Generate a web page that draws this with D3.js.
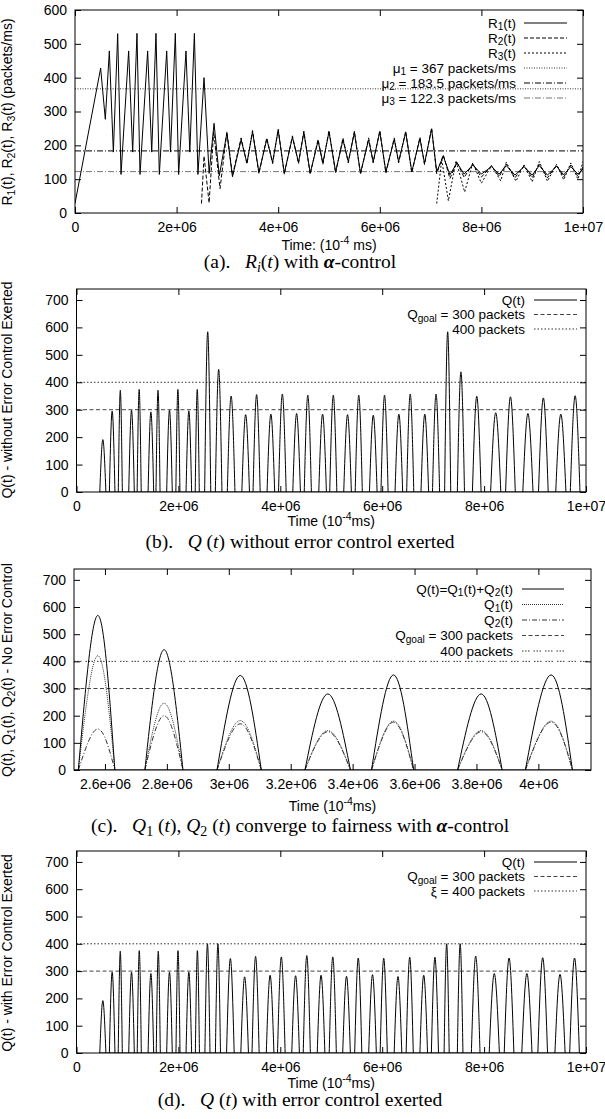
<!DOCTYPE html>
<html>
<head>
<meta charset="utf-8">
<script src="https://cdn.jsdelivr.net/npm/d3@7"></script>
<style>
body { margin: 0; background: #fff; }
svg text { font-family: "Liberation Sans", Arial, sans-serif; font-size: 14px; fill: #000; }
svg text.cap { font-family: "Liberation Serif", "Times New Roman", serif; font-size: 19.5px; }
</style>
</head>
<body>
<div id="chart"></div>
<script>
// time values are in units of 1e6 (x 10^-4 ms)
var xTicksFull = [0, 2, 4, 6, 8, 10];
var xLabelsFull = ["0", "2e+06", "4e+06", "6e+06", "8e+06", "1e+07"];
var xTicksZoom = [2.6, 2.8, 3.0, 3.2, 3.4, 3.6, 3.8, 4.0];
var xLabelsZoom = ["2.6e+06", "2.8e+06", "3e+06", "3.2e+06", "3.4e+06", "3.6e+06", "3.8e+06", "4e+06"];
var yTicksRate = [0, 100, 200, 300, 400, 500, 600];
var yTicksQueue = [0, 100, 200, 300, 400, 500, 600, 700];

// (a) rates R1, R2, R3 (packets/ms)
var r1 = [[0,28],[0.505,428],[0.597,277],[0.676,479],[0.755,180],[0.84,530],[0.906,114],
  [1.056,479],[1.135,180],[1.22,531],[1.28,114],[1.43,479],[1.51,180],[1.594,531],[1.66,114],
  [1.805,479],[1.88,180],[1.975,531],[2.04,114],[2.185,479],[2.26,180],[2.35,531],[2.42,114],
  [2.54,400],[2.64,117],[2.737,265],[2.84,110],[2.99,236],[3.1,107],[3.27,216],[3.385,148],
  [3.495,240],[3.62,120],[3.775,218],[3.89,150],[4.0,245],[4.12,118],[4.28,224],[4.4,150],
  [4.505,238],[4.63,118],[4.785,213],[4.88,148],[5.0,240],[5.13,122],[5.275,216],[5.38,152],
  [5.5,238],[5.62,118],[5.78,216],[5.87,152],[6.0,240],[6.12,122],[6.285,218],[6.37,152],
  [6.51,238],[6.63,122],[6.79,220],[6.88,147],[7.02,248],[7.12,122],[7.25,168],[7.38,113],
  [7.52,148],[7.66,115],[7.83,142],[8.0,115],[8.2,137],[8.35,115],[8.49,140],[8.66,112],
  [8.84,137],[9.0,112],[9.14,140],[9.3,112],[9.48,138],[9.62,113],[9.76,137],[9.9,115],[10.0,130]];
var r2 = [[2.49,28],[2.54,168],[2.64,30],[2.73,240],[2.855,72],[2.99,240],[3.1,112],[3.27,222],
  [3.385,145],[3.495,244],[3.62,116],[3.775,222],[3.89,146],[4.0,248],[4.12,114],[4.28,228],
  [4.4,146],[4.505,242],[4.63,114],[4.785,218],[4.88,144],[5.0,244],[5.13,118],[5.275,222],
  [5.38,148],[5.5,242],[5.62,114],[5.78,222],[5.87,148],[6.0,244],[6.12,118],[6.285,222],
  [6.37,148],[6.51,242],[6.63,118],[6.79,224],[6.88,143],[7.02,252],[7.12,116],[7.25,172],
  [7.38,102],[7.52,150],[7.66,105],[7.83,145],[8.0,106],[8.2,140],[8.35,108],[8.49,145],
  [8.66,104],[8.84,140],[9.0,104],[9.14,145],[9.3,104],[9.48,141],[9.62,106],[9.76,142],
  [9.9,108],[10.0,136]];
var r3 = [[7.12,28],[7.22,158],[7.35,36],[7.5,155],[7.67,62],[7.83,148],[8.0,88],[8.2,140],
  [8.38,95],[8.49,150],[8.68,94],[8.84,142],[9.0,92],[9.14,152],[9.3,94],[9.48,144],[9.62,98],
  [9.76,148],[9.9,100],[10.0,152]];
var muValues = [367, 183.5, 122.3];

// (b) Q(t) without error control: hump peak time, peak value, base width
var bTime = [0.517,0.70,0.86,1.08,1.23,1.46,1.60,1.825,1.99,2.205,2.37,2.575,2.79,3.035,3.32,
  3.535,3.815,4.04,4.32,4.54,4.83,5.04,5.32,5.54,5.825,6.046,6.327,6.55,6.836,7.057,7.285,
  7.545,7.856,8.228,8.517,8.86,9.163,9.506,9.787];
var bPeak = [191,295,371,298,374,292,371,298,374,296,374,584,447,350,282,355,284,357,286,353,
  284,353,282,353,280,353,284,357,284,357,584,438,349,289,347,286,343,284,351];
var bWidth = [0.12,0.11,0.08,0.11,0.08,0.11,0.08,0.11,0.08,0.11,0.08,0.12,0.13,0.15,0.15,0.14,
  0.15,0.15,0.15,0.14,0.15,0.14,0.15,0.14,0.15,0.14,0.15,0.14,0.15,0.14,0.12,0.14,0.17,0.2,
  0.19,0.2,0.19,0.2,0.19];

// (c) Q, Q1, Q2 humps
var cTime = [2.577, 2.791, 3.037, 3.32, 3.532, 3.815, 4.041];
var cStart = [2.514, 2.729, 2.962, 3.246, 3.461, 3.739, 3.958];
var cEnd = [2.632, 2.852, 3.105, 3.393, 3.597, 3.883, 4.11];
var cQ = [569, 443, 348, 280, 350, 280, 350];
var cQ1 = [421, 246, 182, 145, 180, 145, 180];
var cQ2 = [151, 200, 170, 141, 176, 141, 176];

// (d) Q(t) with error control
var dTime = [0.517,0.70,0.859,1.08,1.232,1.46,1.605,1.825,1.992,2.205,2.373,2.57,2.776,3.02,
  3.3,3.515,3.8,4.02,4.3,4.52,4.8,5.03,5.3,5.53,5.81,6.03,6.31,6.54,6.815,7.035,7.265,7.53,
  7.835,8.2,8.49,8.84,9.15,9.49,9.775];
var dPeak = [192,296,373,296,375,291,373,296,375,296,375,400,400,346,279,354,285,352,283,357,
  285,352,281,348,287,347,280,351,285,351,400,400,355,291,348,291,349,288,348];
var dWidth = [0.12,0.11,0.08,0.11,0.08,0.11,0.08,0.11,0.08,0.11,0.08,0.1,0.1,0.15,0.15,0.14,
  0.15,0.15,0.15,0.14,0.15,0.14,0.15,0.14,0.15,0.14,0.15,0.14,0.15,0.14,0.1,0.11,0.17,0.2,
  0.19,0.2,0.19,0.2,0.19];

var svg = d3.select("#chart").append("svg")
    .attr("width", 605)
    .attr("height", 1119);

var clipId = 0;

// gnuplot-like text: _{sub} and ^{sup}
function rich(sel, str, size) {
    var parts = str.split(/(_\{[^}]*\}|\^\{[^}]*\})/);
    var shift = 0;
    parts.forEach(function(p) {
	if (!p) return;
	var t = sel.append("tspan");
	if (p[0] === "_" && p[1] === "{") {
	    t.attr("dy", size * 0.22 - shift).style("font-size", (size * 0.75) + "px").text(p.slice(2, -1));
	    shift = size * 0.22;
	} else if (p[0] === "^" && p[1] === "{") {
	    t.attr("dy", -size * 0.4 - shift).style("font-size", (size * 0.75) + "px").text(p.slice(2, -1));
	    shift = -size * 0.4;
	} else {
	    t.attr("dy", -shift).text(p);
	    shift = 0;
	}
    });
}

function panel(p) {
    var x = d3.scaleLinear().domain(p.xDomain).range([p.left, p.right]);
    var y = d3.scaleLinear().domain(p.yDomain).range([p.bottom, p.top]);
    var g = svg.append("g");

    clipId++;
    g.append("clipPath").attr("id", "clip" + clipId)
	.append("rect")
	.attr("x", p.left).attr("y", p.top)
	.attr("width", p.right - p.left).attr("height", p.bottom - p.top);
    var plot = g.append("g").attr("clip-path", "url(#clip" + clipId + ")");

    // axes with inward ticks, mirrored
    var fmt = function(d, i) { return p.xLabels[i]; };
    g.append("g")
	.attr("transform", "translate(0," + p.bottom + ")")
	.call(d3.axisBottom(x).tickValues(p.xTicks).tickFormat(fmt).tickSizeInner(-6).tickSizeOuter(0).tickPadding(p.xPad))
	.call(function(a) { a.select(".domain").remove(); });
    g.append("g")
	.attr("transform", "translate(0," + p.top + ")")
	.call(d3.axisTop(x).tickValues(p.xTicks).tickFormat("").tickSizeInner(-6).tickSizeOuter(0))
	.call(function(a) { a.select(".domain").remove(); });
    g.append("g")
	.attr("transform", "translate(" + p.left + ",0)")
	.call(d3.axisLeft(y).tickValues(p.yTicks).tickFormat(d3.format("d")).tickSizeInner(-6).tickSizeOuter(0).tickPadding(8))
	.call(function(a) { a.select(".domain").remove(); });
    g.append("g")
	.attr("transform", "translate(" + p.right + ",0)")
	.call(d3.axisRight(y).tickValues(p.yTicks).tickFormat("").tickSizeInner(-6).tickSizeOuter(0))
	.call(function(a) { a.select(".domain").remove(); });
    g.selectAll(".tick text").style("font-size", "14px").attr("font-family", null);
    g.selectAll(".tick line").attr("stroke", "#000");

    // axis titles
    var yt = g.append("text")
	.attr("transform", "translate(12," + p.yTitleY + ") rotate(-90)")
	.attr("text-anchor", "middle")
	.attr("dy", "0.35em");
    rich(yt, p.yTitle, 14);
    var xt = g.append("text")
	.attr("x", (p.left + p.right) / 2)
	.attr("y", p.xTitleY)
	.attr("text-anchor", "middle");
    rich(xt, p.xTitle, 14);

    return {g: g, plot: plot, x: x, y: y};
}

function frame(P, p) {
    P.g.append("rect")
	.attr("x", p.left).attr("y", p.top)
	.attr("width", p.right - p.left).attr("height", p.bottom - p.top)
	.attr("fill", "none").attr("stroke", "#000").attr("stroke-width", 1);
}

function legend(P, p, items) {
    items.forEach(function(it, i) {
	var yy = p.legendY[i];
	var t = P.g.append("text")
	    .attr("x", p.legendText)
	    .attr("y", yy + 4.5)
	    .attr("text-anchor", "end")
	    .style("font-size", "13.5px");
	rich(t, it.label, 13.5);
	P.g.append("line")
	    .attr("x1", p.legendLine[0]).attr("x2", p.legendLine[1])
	    .attr("y1", yy).attr("y2", yy)
	    .attr("stroke", it.color || "#000")
	    .attr("stroke-width", 1)
	    .attr("stroke-dasharray", it.dash || null);
    });
}

function hline(P, v, color, dash) {
    P.plot.append("line")
	.attr("x1", P.x.range()[0]).attr("x2", P.x.range()[1])
	.attr("y1", P.y(v)).attr("y2", P.y(v))
	.attr("stroke", color).attr("stroke-width", 1)
	.attr("stroke-dasharray", dash);
}

var hump = d3.line()
    .curve(d3.curveNatural)
    .x(function(d) { return d[0]; })
    .y(function(d) { return d[1]; });

function humps(P, t0, t1, v, color, dash) {
    P.plot.selectAll(null)
	.data(v.map(function(val, i) { return [[t0[i], 0], [t1[i], val], [t1[i] + (t1[i] - t0[i]), 0]]; }))
	.enter().append("path")
	.attr("d", function(d) {
	    return hump(d.map(function(q) { return [P.x(q[0]), P.y(q[1])]; }));
	})
	.attr("fill", "none").attr("stroke", color).attr("stroke-width", 1)
	.attr("stroke-dasharray", dash || null);
}

function caption(y, parts) {
    var t = svg.append("text").attr("class", "cap")
	.attr("x", 300).attr("y", y)
	.attr("text-anchor", "middle")
	.attr("xml:space", "preserve");
    parts.forEach(function(q) {
	var s = t.append("tspan").text(q.t);
	if (q.i) s.style("font-style", "italic");
	if (q.b) s.style("font-weight", "bold");
	if (q.sub) s.attr("dy", 4).style("font-size", "14px");
	if (q.dy) s.attr("dy", q.dy);
    });
}

var dashR2 = "4,2", dashR3 = "2,2", dotted = "1,1.5", dashDot = "6,2,1,2";
var dashGoal = "4,2.5", dot400 = "1.5,2";

// ---------- (a)
var pa = {left: 75, right: 583, top: 10, bottom: 213, xDomain: [0, 10], yDomain: [0, 600],
	  xTicks: xTicksFull, xLabels: xLabelsFull, yTicks: yTicksRate, xPad: 9,
	  yTitle: "R_{1}(t), R_{2}(t), R_{3}(t) (packets/ms)", yTitleY: 112,
	  xTitle: "Time: (10^{-4} ms)", xTitleY: 250,
	  legendText: 516, legendLine: [524, 567], legendY: [23, 38, 53, 68, 83, 98]};
var A = panel(pa);
hline(A, muValues[0], "#333", dotted);
hline(A, muValues[1], "#000", dashDot);
hline(A, muValues[2], "#777", dashDot);
var rateLine = d3.line()
    .x(function(d) { return A.x(d[0]); })
    .y(function(d) { return A.y(d[1]); });
A.plot.append("path").attr("d", rateLine(r3)).attr("fill", "none").attr("stroke", "#000").attr("stroke-dasharray", dashR3);
A.plot.append("path").attr("d", rateLine(r2)).attr("fill", "none").attr("stroke", "#000").attr("stroke-dasharray", dashR2);
A.plot.append("path").attr("d", rateLine(r1)).attr("fill", "none").attr("stroke", "#000");
frame(A, pa);
legend(A, pa, [
    {label: "R_{1}(t)"},
    {label: "R_{2}(t)", dash: dashR2},
    {label: "R_{3}(t)", dash: dashR3},
    {label: "\u03bc_{1} = 367 packets/ms", dash: dotted, color: "#333"},
    {label: "\u03bc_{2} = 183.5 packets/ms", dash: dashDot},
    {label: "\u03bc_{3} = 122.3 packets/ms", dash: dashDot, color: "#777"}
]);
caption(268, [{t: "(a).   "}, {t: "R", i: 1}, {t: "i", i: 1, sub: 1}, {t: "(", dy: -4}, {t: "t", i: 1}, {t: ") with "}, {t: "\u03b1", i: 1, b: 1}, {t: "-control"}]);

// ---------- (b)
var pb = {left: 76.5, right: 586, top: 289, bottom: 492, xDomain: [0, 10], yDomain: [0, 740],
	  xTicks: xTicksFull, xLabels: xLabelsFull, yTicks: yTicksQueue, xPad: 9,
	  yTitle: "Q(t) - without Error Control Exerted", yTitleY: 390,
	  xTitle: "Time (10^{-4}ms)", xTitleY: 526,
	  legendText: 525, legendLine: [534, 577], legendY: [300, 314.5, 329]};
var B = panel(pb);
hline(B, 300, "#444", dashGoal);
hline(B, 400, "#333", dot400);
humps(B, bTime.map(function(t, i) { return t - bWidth[i] / 2; }), bTime, bPeak, "#000");
B.plot.append("line").attr("x1", B.x(0.45)).attr("x2", B.x(10)).attr("y1", B.y(0)).attr("y2", B.y(0)).attr("stroke", "#000");
frame(B, pb);
legend(B, pb, [
    {label: "Q(t)"},
    {label: "Q_{goal} = 300 packets", dash: dashGoal, color: "#444"},
    {label: "400 packets", dash: dot400, color: "#333"}
]);
caption(548, [{t: "(b).   "}, {t: "Q", i: 1}, {t: " ("}, {t: "t", i: 1}, {t: ") without error control exerted"}]);

// ---------- (c)
var pc = {left: 74, right: 591, top: 569, bottom: 770, xDomain: [2.5, 4.17], yDomain: [0, 740],
	  xTicks: xTicksZoom, xLabels: xLabelsZoom, yTicks: yTicksQueue, xPad: 9,
	  yTitle: "Q(t), Q_{1}(t), Q_{2}(t) - No Error Control", yTitleY: 670,
	  xTitle: "Time (10^{-4}ms)", xTitleY: 811,
	  legendText: 513, legendLine: [522, 564], legendY: [589, 604.5, 620, 635.5, 651]};
var C = panel(pc);
hline(C, 300, "#444", dashGoal);
hline(C, 400, "#333", "1.5,1.5,1.5,1.5,1.5,4");
function cHumps(vals, color, dash) {
    C.plot.selectAll(null)
	.data(vals.map(function(v, i) { return [[cStart[i], 0], [cTime[i], v], [cEnd[i], 0]]; }))
	.enter().append("path")
	.attr("d", function(d) { return hump(d.map(function(q) { return [C.x(q[0]), C.y(q[1])]; })); })
	.attr("fill", "none").attr("stroke", color).attr("stroke-width", 1)
	.attr("stroke-dasharray", dash || null);
}
cHumps(cQ2, "#333", "5,2,1,2");
cHumps(cQ1, "#333", "1,1");
cHumps(cQ, "#000");
C.plot.append("line").attr("x1", C.x(2.5)).attr("x2", C.x(4.17)).attr("y1", C.y(0)).attr("y2", C.y(0)).attr("stroke", "#000");
frame(C, pc);
legend(C, pc, [
    {label: "Q(t)=Q_{1}(t)+Q_{2}(t)"},
    {label: "Q_{1}(t)", dash: "1,1", color: "#333"},
    {label: "Q_{2}(t)", dash: "5,2,1,2", color: "#333"},
    {label: "Q_{goal} = 300 packets", dash: dashGoal, color: "#444"},
    {label: "400 packets", dash: "1.5,1.5,1.5,1.5,1.5,4", color: "#333"}
]);
caption(832, [{t: "(c).   "}, {t: "Q", i: 1}, {t: "1", sub: 1}, {t: " (", dy: -4}, {t: "t", i: 1}, {t: "), "}, {t: "Q", i: 1}, {t: "2", sub: 1}, {t: " (", dy: -4}, {t: "t", i: 1}, {t: ") converge to fairness with "}, {t: "\u03b1", i: 1, b: 1}, {t: "-control"}]);

// ---------- (d)
var pd = {left: 76.5, right: 586, top: 851, bottom: 1053, xDomain: [0, 10], yDomain: [0, 740],
	  xTicks: xTicksFull, xLabels: xLabelsFull, yTicks: yTicksQueue, xPad: 9,
	  yTitle: "Q(t) - with Error Control Exerted", yTitleY: 953,
	  xTitle: "Time (10^{-4}ms)", xTitleY: 1088,
	  legendText: 525, legendLine: [534, 577], legendY: [862, 876.5, 891]};
var D = panel(pd);
hline(D, 300, "#444", dashGoal);
hline(D, 400, "#333", dot400);
humps(D, dTime.map(function(t, i) { return t - dWidth[i] / 2; }), dTime, dPeak, "#000");
D.plot.append("line").attr("x1", D.x(0.45)).attr("x2", D.x(10)).attr("y1", D.y(0)).attr("y2", D.y(0)).attr("stroke", "#000");
frame(D, pd);
legend(D, pd, [
    {label: "Q(t)"},
    {label: "Q_{goal} = 300 packets", dash: dashGoal, color: "#444"},
    {label: "\u03be = 400 packets", dash: dot400, color: "#333"}
]);
caption(1106, [{t: "(d).   "}, {t: "Q", i: 1}, {t: " ("}, {t: "t", i: 1}, {t: ") with error control exerted"}]);
</script>
</body>
</html>
